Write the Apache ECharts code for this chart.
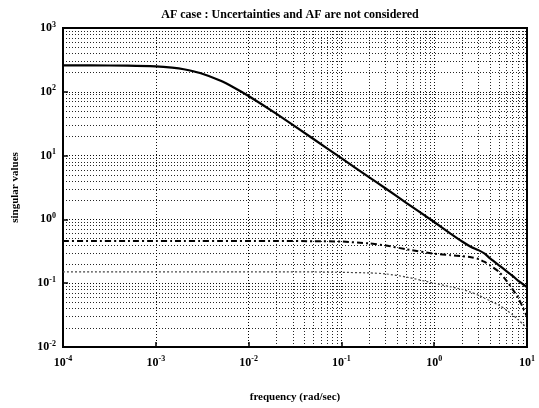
<!DOCTYPE html>
<html>
<head>
<meta charset="utf-8">
<script src="https://cdn.jsdelivr.net/npm/echarts@6/dist/echarts.min.js"></script>
<style>html,body{margin:0;padding:0;background:#fff}#c{width:539px;height:408px}</style>
</head>
<body>
<div id="c"></div>
<script>
// frequency points (rad/sec)
var freq = [1e-4, 2e-4, 5e-4, 1e-3, 1.5e-3, 2e-3, 3e-3, 5e-3, 7e-3, 1e-2, 2e-2, 5e-2, 0.1, 0.2, 0.3, 0.5, 1, 1.5, 2, 2.5, 3, 3.5, 4, 5, 6, 7, 8, 9, 10];
// largest singular value (solid)
var sv1 = [260, 259.6, 257, 250, 239, 226, 197, 149, 116, 86, 45, 18.2, 9.1, 4.55, 3.05, 1.82, 0.91, 0.6, 0.45, 0.37, 0.33, 0.29, 0.245, 0.19, 0.155, 0.13, 0.11, 0.097, 0.087];
// second singular value (dash-dot)
var sv2 = [0.46, 0.46, 0.46, 0.46, 0.46, 0.46, 0.46, 0.46, 0.46, 0.46, 0.46, 0.455, 0.45, 0.42, 0.39, 0.34, 0.29, 0.275, 0.265, 0.255, 0.24, 0.215, 0.19, 0.15, 0.11, 0.08, 0.06, 0.042, 0.03];
// third singular value (dotted)
var sv3 = [0.15, 0.15, 0.15, 0.15, 0.15, 0.15, 0.15, 0.15, 0.15, 0.15, 0.15, 0.15, 0.148, 0.145, 0.14, 0.125, 0.1, 0.088, 0.08, 0.072, 0.065, 0.058, 0.053, 0.045, 0.038, 0.032, 0.027, 0.023, 0.02];

var titleText = 'AF case : Uncertainties and AF are not considered';
var xName = 'frequency (rad/sec)';
var yName = 'singular values';

function pairs(ys) { return freq.map(function (f, i) { return [f, ys[i]]; }); }
function minorVals(lo, hi) {
  var out = [];
  for (var e = lo; e < hi; e++) for (var m = 2; m <= 9; m++) out.push(m * Math.pow(10, e));
  return out;
}
var FONT = 'Liberation Serif';
function labelFmt(v) {
  var e = Math.round(Math.log10(v));
  return '{b|10}{s|' + e + '}';
}
var rich = {
  b: { fontFamily: FONT, fontWeight: 'bold', fontSize: 12, color: '#000' },
  s: { fontFamily: FONT, fontWeight: 'bold', fontSize: 8, color: '#000', padding: [0, 0, 7, 0] }
};
var gridStyle = { color: '#000', type: [1, 2], width: 1, opacity: 0.95 };
var minorLines = [];
minorVals(-4, 1).forEach(function (v) { minorLines.push({ xAxis: v }); });
minorVals(-2, 3).forEach(function (v) { minorLines.push({ yAxis: v }); });

var chart = echarts.init(document.getElementById('c'), null, { renderer: 'canvas' });
chart.setOption({
  animation: false,
  backgroundColor: '#fff',
  title: {
    text: titleText, left: 285, top: 4, textAlign: 'center',
    textStyle: { fontFamily: FONT, fontWeight: 'bold', fontSize: 12, color: '#000' }
  },
  grid: { left: 63, right: 12, top: 28, bottom: 49, show: true, borderColor: '#000', borderWidth: 2 },
  xAxis: {
    type: 'log', logBase: 10, min: 1e-4, max: 10, interval: 1,
    name: xName, nameLocation: 'middle', nameGap: 45,
    nameTextStyle: { fontFamily: FONT, fontWeight: 'bold', fontSize: 11, color: '#000' },
    axisLine: { lineStyle: { color: '#000', width: 2 } },
    axisTick: { inside: true, length: 5, lineStyle: { color: '#000', width: 1.5 } },
    axisLabel: { formatter: labelFmt, rich: rich, margin: 8 },
    splitLine: { show: true, lineStyle: gridStyle }
  },
  yAxis: {
    type: 'log', logBase: 10, min: 1e-2, max: 1e3, interval: 1,
    name: yName, nameLocation: 'middle', nameGap: 42, nameRotate: 90,
    nameTextStyle: { fontFamily: FONT, fontWeight: 'bold', fontSize: 11, color: '#000' },
    axisLine: { lineStyle: { color: '#000', width: 2 } },
    axisTick: { inside: true, length: 5, lineStyle: { color: '#000', width: 1.5 } },
    axisLabel: { formatter: labelFmt, rich: rich, margin: 7 },
    splitLine: { show: true, lineStyle: gridStyle }
  },
  series: [
    {
      name: 'sv1', type: 'line', data: pairs(sv1), showSymbol: false, smooth: 0.2,
      lineStyle: { color: '#000', width: 2.2 }, z: 5,
      markLine: {
        silent: true, symbol: 'none', label: { show: false },
        lineStyle: { color: '#000', type: [1, 2], width: 1, opacity: 0.85 },
        data: minorLines, animation: false
      }
    },
    {
      name: 'sv2', type: 'line', data: pairs(sv2), showSymbol: false, smooth: 0.2,
      lineStyle: { color: '#000', width: 2, type: [6, 3, 2, 3] }, z: 5
    },
    {
      name: 'sv3', type: 'line', data: pairs(sv3), showSymbol: false, smooth: 0.2,
      lineStyle: { color: '#444', width: 1.2, type: [2, 2] }, z: 5
    }
  ]
});
</script>
</body>
</html>
